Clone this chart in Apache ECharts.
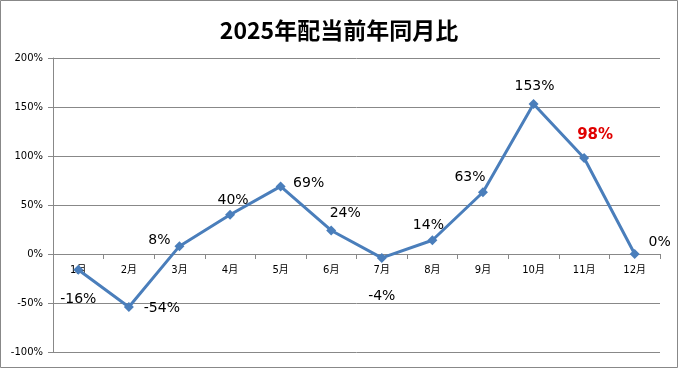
<!DOCTYPE html>
<html>
<head>
<meta charset="utf-8">
<script src="https://cdn.jsdelivr.net/npm/echarts@6/dist/echarts.min.js"></script>
<style>html,body{margin:0;padding:0;background:#fff}#c{width:678px;height:368px}</style>
</head>
<body>
<div id="c"></div>
<script>
const titleText = '2025年配当前年同月比';
const months = ['1月','2月','3月','4月','5月','6月','7月','8月','9月','10月','11月','12月'];
const values = [-16, -54, 8, 40, 69, 24, -4, 14, 63, 153, 98, 0];
const yTicks = { min: -100, max: 200, interval: 50 };
const highlightIndex = 10;
// label placement offsets (dx, dy) relative to each point
const labelPlacement = [[0,30],[33,1],[-20,-6],[3,-14],[28,-3],[14,-17],[0,38],[-4,-15],[-13,-15],[1,-18],[11,-23],[25,-12]];

const chart = echarts.init(document.getElementById('c'));
const font = "'DejaVu Sans', 'Noto Sans CJK JP', sans-serif";
const gridTop = 58, gridBottom = 16, chartH = 368;
const plotH = chartH - gridTop - gridBottom;
// distance from bottom of plot to the zero line
const zeroShift = plotH * (0 - yTicks.min) / (yTicks.max - yTicks.min);
chart.setOption({
  animation: false,
  backgroundColor: '#fff',
  title: {
    text: titleText, left: 'center', top: 14,
    textStyle: { fontFamily: "'Noto Sans CJK JP', sans-serif", fontSize: 23, fontWeight: 'bold', color: '#000' }
  },
  graphic: [{ type: 'rect', shape: { x: 0.5, y: 0.5, width: 677, height: 367 }, style: { fill: 'none', stroke: '#888', lineWidth: 1 }, silent: true }],
  grid: { left: 53, right: 18, top: gridTop, bottom: gridBottom, containLabel: false, outerBoundsMode: 'none' },
  xAxis: {
    type: 'category', data: months, boundaryGap: true, position: 'bottom', offset: -zeroShift,
    axisLine: { onZero: false, lineStyle: { color: '#888' } },
    axisTick: { show: true, length: 5, inside: false, lineStyle: { color: '#888' } },
    axisLabel: { fontFamily: font, fontSize: 10, color: '#000', margin: 11 },
    splitLine: { show: false }
  },
  yAxis: {
    type: 'value', min: yTicks.min, max: yTicks.max, interval: yTicks.interval,
    axisLine: { show: true, lineStyle: { color: '#888' } },
    axisTick: { show: true, length: 5, lineStyle: { color: '#888' } },
    axisLabel: { formatter: '{value}%', fontFamily: font, fontSize: 10, color: '#000', margin: 10 },
    splitLine: { show: true, lineStyle: { color: '#888', width: 1 } }
  },
  series: [{
    type: 'line',
    data: values.map((v, i) => ({
      value: v,
      label: {
        show: true, position: 'inside', offset: labelPlacement[i],
        formatter: v + '%',
        fontFamily: font,
        fontSize: i === highlightIndex ? 15 : 14,
        fontWeight: i === highlightIndex ? 'bold' : 'normal',
        color: i === highlightIndex ? '#e00000' : '#000'
      }
    })),
    symbol: 'diamond', symbolSize: 10,
    lineStyle: { color: '#4a7ebb', width: 3 },
    itemStyle: { color: '#4a7ebb' }
  }]
});
</script>
</body>
</html>
